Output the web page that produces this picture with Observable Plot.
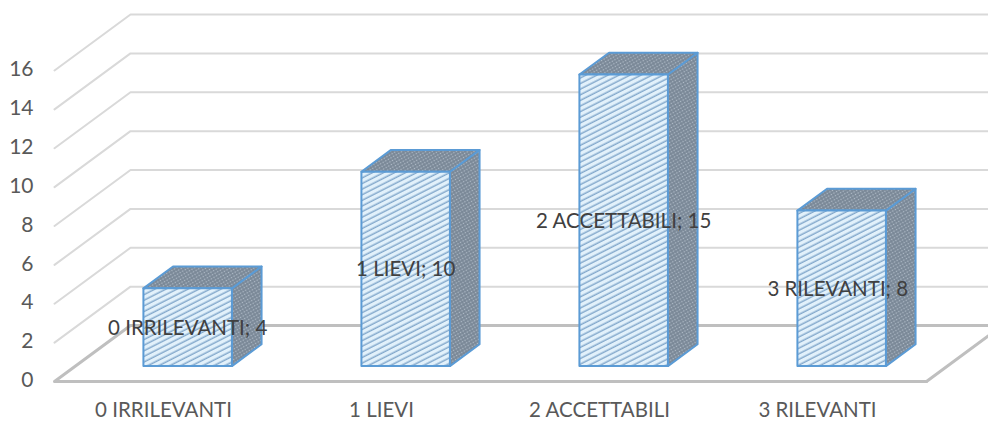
<!DOCTYPE html>
<html>
<head>
<meta charset="utf-8">
<script src="https://cdn.jsdelivr.net/npm/d3@7"></script>
<script src="https://cdn.jsdelivr.net/npm/@observablehq/plot@0.6"></script>
<style>
html,body{margin:0;padding:0;background:#fff;overflow:hidden}
svg{display:block}
</style>
</head>
<body>
<div id="chart"></div>
<script>
const categories = ["0 IRRILEVANTI", "1 LIEVI", "2 ACCETTABILI", "3 RILEVANTI"];
const values = [4, 10, 15, 8];
const gridValues = [0, 2, 4, 6, 8, 10, 12, 14, 16];

// oblique projection of a point (category position, value, depth 0..1) into scale units
const depthX = 76 / 218, depthY = 56 / 19.44;
const px = (c, d) => c + d * depthX;
const py = (v, d) => v + d * depthY;
const barFrom = 0.312, barTo = 0.718, depthFrom = 0.275, depthTo = 0.665;

const poly = (id, pts) => pts.map(([c, v, d]) => ({id, x: px(c, d), y: py(v, d)}));
const n = categories.length;

const wall = gridValues.filter(v => v > 0).flatMap(v =>
  poly(v, [[0, v, 0], [0, v, 1], [n, v, 1]]));
const floorBack = poly(0, [[0, 0, 1], [n, 0, 1]]);
const floorEdge = poly(1, [[n, 0, 0], [0, 0, 0], [0, 0, 1]]);
const floorRight = poly(2, [[n, 0, 0], [n, 0, 1]]);

const fronts = values.flatMap((v, i) => poly(i, [
  [i + barFrom, 0, depthFrom], [i + barTo, 0, depthFrom], [i + barTo, v, depthFrom], [i + barFrom, v, depthFrom]]));
const tops = values.flatMap((v, i) => poly(i, [
  [i + barFrom, v, depthFrom], [i + barTo, v, depthFrom], [i + barTo, v, depthTo], [i + barFrom, v, depthTo]]));
const sides = values.flatMap((v, i) => poly(i, [
  [i + barTo, 0, depthFrom], [i + barTo, 0, depthTo], [i + barTo, v, depthTo], [i + barTo, v, depthFrom]]));
const labels = values.map((v, i) => ({
  x: px(i + (barFrom + barTo) / 2, depthFrom) - (i === 3 ? 0.018 : 0),
  y: py(v / 2, depthFrom),
  text: `${categories[i]}; ${v}`
}));

const edge = "#5b9bd5";
const chart = Plot.plot({
  width: 988, height: 421,
  marginLeft: 54, marginRight: 62, marginTop: 0, marginBottom: 40,
  style: {fontFamily: "Lato, 'Open Sans', sans-serif", background: "#fff"},
  x: {domain: [0, n], range: [54, 926]},
  y: {domain: [0, 16], range: [381, 70]},
  marks: [
    Plot.line(wall, {x: "x", y: "y", z: "id", stroke: "#d9d9d9", strokeWidth: 2, curve: "linear"}),
    Plot.line(floorBack, {x: "x", y: "y", z: "id", stroke: "#bfbfbf", strokeWidth: 3}),
    Plot.line(floorEdge, {x: "x", y: "y", z: "id", stroke: "#bfbfbf", strokeWidth: 3}),
    Plot.line(floorRight, {x: "x", y: "y", z: "id", stroke: "#bfbfbf", strokeWidth: 3}),
    Plot.line(sides, {x: "x", y: "y", z: "id", fill: "url(#darkDots)", stroke: edge, strokeWidth: 2, curve: "linear-closed"}),
    Plot.line(tops, {x: "x", y: "y", z: "id", fill: "url(#darkDots)", stroke: edge, strokeWidth: 2, curve: "linear-closed"}),
    Plot.line(fronts, {x: "x", y: "y", z: "id", fill: "url(#hatch)", stroke: edge, strokeWidth: 2, curve: "linear-closed"}),
    Plot.axisY({ticks: gridValues, tickSize: 0, tickPadding: 21, fontSize: 21, color: "#595959", dy: -1, label: null}),
    Plot.axisX({ticks: categories.map((c, i) => i + 0.5), tickFormat: t => categories[Math.floor(t)], tickSize: 0, tickPadding: 21, fontSize: 20.5, color: "#595959", label: null}),
    Plot.text(labels, {x: "x", y: "y", text: "text", fontSize: 20.5, fill: "#404040", dy: 1})
  ]
});
const defs = document.createElementNS("http://www.w3.org/2000/svg", "defs");
defs.innerHTML = `
<pattern id="hatch" width="8" height="5" patternUnits="userSpaceOnUse" patternTransform="rotate(-27)">
  <rect width="8" height="5" fill="#e2f1fb"/>
  <rect width="8" height="1.5" y="1.5" fill="#84a9cc"/>
</pattern>
<pattern id="darkDots" width="3" height="3" patternUnits="userSpaceOnUse" patternTransform="rotate(-30)">
  <rect width="3" height="3" fill="#7a8897"/>
  <circle cx="1.5" cy="1.5" r="0.8" fill="#b0bcc8"/>
</pattern>`;
chart.prepend(defs);
document.getElementById("chart").append(chart);
</script>
</body>
</html>
